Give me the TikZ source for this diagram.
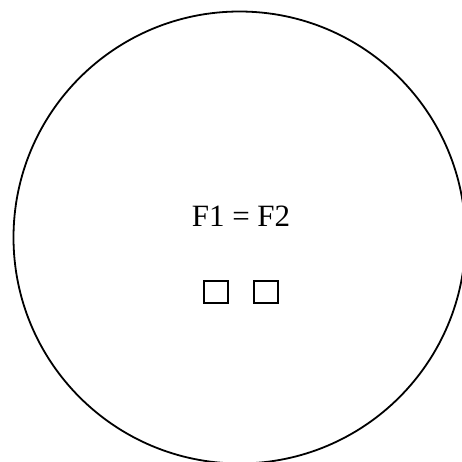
\documentclass[tikz,border=0pt]{standalone}
\usepackage{fontspec}
\setmainfont{Liberation Serif}
\begin{document}
\begin{tikzpicture}[x=1pt,y=-1pt,
  ring/.style={draw=black,line width=1.8pt},
  boxglyph/.style={draw=black,line width=1.6pt,minimum width=24pt,minimum height=22pt,inner sep=0pt}]
\useasboundingbox (0,0) rectangle (462,461);
\draw[ring] (239.5,237.5) circle[radius=226];
\node[font=\fontsize{31}{36}\selectfont] (eq) at (241,216) {F1 = F2};
\node[boxglyph] (b1) at (216,292) {};
\node[boxglyph] (b2) at (266,292) {};
\end{tikzpicture}
\end{document}
